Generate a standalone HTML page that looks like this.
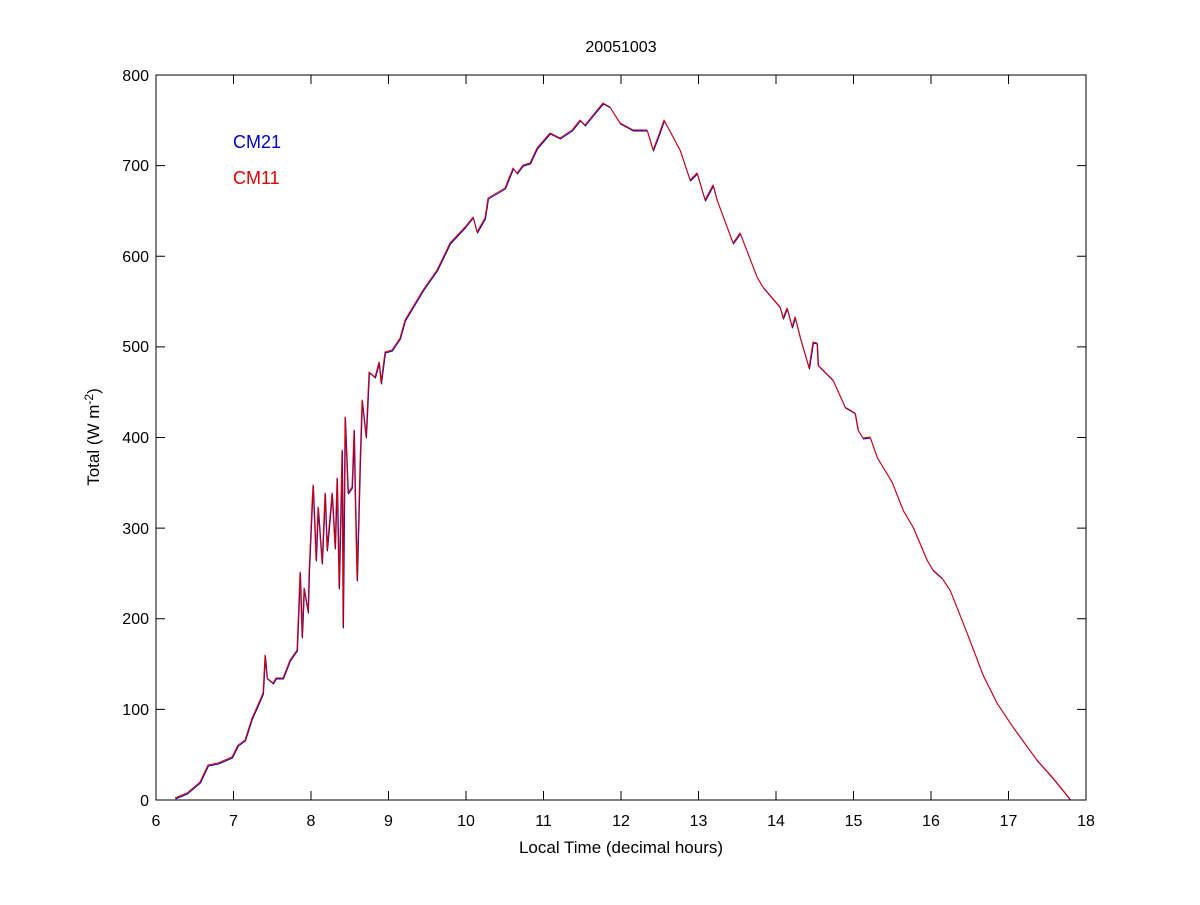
<!DOCTYPE html>
<html><head><meta charset="utf-8"><style>
html,body{margin:0;padding:0;background:#fff}
svg text{font-family:"Liberation Sans",Arial,sans-serif;fill:#000}
</style></head><body>
<svg width="1200" height="900" viewBox="0 0 1200 900" xmlns="http://www.w3.org/2000/svg">
<rect width="1200" height="900" fill="#fff"/>
<rect x="156" y="75" width="930" height="725" fill="none" stroke="#000" stroke-width="1"/>
<g stroke="#000" stroke-width="1">
<path d="M156,800v-9M233.5,800v-9M311,800v-9M388.5,800v-9M466,800v-9M543.5,800v-9M621,800v-9M698.5,800v-9M776,800v-9M853.5,800v-9M931,800v-9M1008.5,800v-9M1086,800v-9
M156,75v9M233.5,75v9M311,75v9M388.5,75v9M466,75v9M543.5,75v9M621,75v9M698.5,75v9M776,75v9M853.5,75v9M931,75v9M1008.5,75v9M1086,75v9"/>
<path d="M156,800h9M156,709.4h9M156,618.75h9M156,528.1h9M156,437.5h9M156,346.9h9M156,256.25h9M156,165.6h9M156,75h9
M1086,800h-9M1086,709.4h-9M1086,618.75h-9M1086,528.1h-9M1086,437.5h-9M1086,346.9h-9M1086,256.25h-9M1086,165.6h-9M1086,75h-9"/>
</g>
<g font-size="16" text-anchor="middle">
<text x="156" y="826">6</text><text x="233.5" y="826">7</text><text x="311" y="826">8</text><text x="388.5" y="826">9</text><text x="466" y="826">10</text><text x="543.5" y="826">11</text><text x="621" y="826">12</text><text x="698.5" y="826">13</text><text x="776" y="826">14</text><text x="853.5" y="826">15</text><text x="931" y="826">16</text><text x="1008.5" y="826">17</text><text x="1086" y="826">18</text>
</g>
<g font-size="16" text-anchor="end">
<text x="149" y="806">0</text><text x="149" y="715">100</text><text x="149" y="624">200</text><text x="149" y="534">300</text><text x="149" y="443">400</text><text x="149" y="352">500</text><text x="149" y="262">600</text><text x="149" y="171">700</text><text x="149" y="81">800</text>
</g>
<text x="621" y="52" font-size="16" text-anchor="middle">20051003</text>
<text x="621" y="853" font-size="17" text-anchor="middle">Local Time (decimal hours)</text>
<text transform="translate(99,437) rotate(-90)" font-size="17" text-anchor="middle">Total (W m<tspan dy="-6" font-size="12">-2</tspan><tspan dy="6">)</tspan></text>
<text x="233" y="148" font-size="18" style="fill:#0000cc">CM21</text>
<text x="233" y="184" font-size="18" style="fill:#e00000">CM11</text>
<defs>
<polyline id="c" fill="none" stroke-linejoin="round" points="175,798 187,793 200,782 208,765 218,763 232,757 238,745 245,740 252,718 257,707 263,693 265,655 267,678 273,683 276,678 283,678 290,660 297,650 300,572 302,637 304,588 308,612 309,573 312,503 313,485 316,560 318,507 322,563 325,493 327,550 332,493 335,548 337,478 339,588 342,450 343,627 345,417 348,493 352,487 354,430 355,490 357,580 360,463 362,400 366,437 369,372 375,377 379,362 381,383 385,352 392,350 400,338 405,320 423,290 437,270 450,243 465,227 473,217 477,232 485,218 488,198 505,188 513,168 517,173 523,165 530,163 537,148 550,133 560,138 572,130 580,120 585,125 593,115 603,103 610,107 620,123 633,130 647,130 653,150 658,137 664,120 680,150 690,180 697,173 705,200 713,185 717,200 733,243 740,233 757,277 763,287 780,307 783,318 787,308 792,327 795,317 800,337 809,368 813,342 817,343 818,365 823,370 833,380 845,407 855,413 858,430 863,438 870,437 877,457 892,482 903,510 913,527 927,560 933,570 942,578 950,590 967,633 983,675 997,703 1013,727 1037,760 1053,778 1070,799"/>
</defs>
<use href="#c" transform="translate(0.5,1)" style="stroke:#0000bb"/>
<use href="#c" style="stroke:#e00000"/>
</svg>
</body></html>
